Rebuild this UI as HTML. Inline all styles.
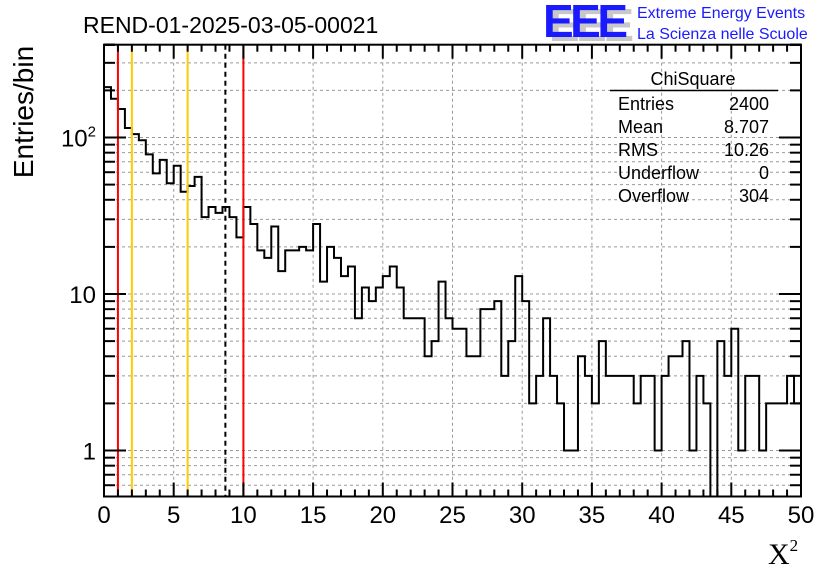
<!DOCTYPE html>
<html><head><meta charset="utf-8"><style>
body{margin:0;background:#fff;}
svg{display:block;font-family:"Liberation Sans",sans-serif;}
</style></head><body>
<svg id="chart" width="836" height="572" viewBox="0 0 836 572">
<rect width="836" height="572" fill="#fff"/>
<g id="grid"></g>
<g id="marks"></g>
<g id="axes"></g>
<text x="83" y="33" font-size="23">REND-01-2025-03-05-00021</text>
<g>
<text x="549" y="41" font-size="46" font-weight="bold" fill="#c8c8c8" letter-spacing="-1" textLength="84">EEE</text>
<text x="543" y="37" font-size="46" font-weight="bold" fill="#1a1aff" letter-spacing="-1" textLength="84">EEE</text>
<text x="637" y="18" font-size="16" fill="#1a1aff">Extreme Energy Events</text>
<text x="637" y="39" font-size="16" fill="#1a1aff">La Scienza nelle Scuole</text>
</g>
<g font-size="18">
<text x="693" y="85" text-anchor="middle">ChiSquare</text>
<line x1="610" y1="90.5" x2="778" y2="90.5" stroke="#000" stroke-width="1.5"/>
<text x="618" y="110">Entries</text><text x="769" y="110" text-anchor="end">2400</text>
<text x="618" y="133">Mean</text><text x="769" y="133" text-anchor="end">8.707</text>
<text x="618" y="156">RMS</text><text x="769" y="156" text-anchor="end">10.26</text>
<text x="618" y="179">Underflow</text><text x="769" y="179" text-anchor="end">0</text>
<text x="618" y="202">Overflow</text><text x="769" y="202" text-anchor="end">304</text>
</g>
<text transform="translate(33,112) rotate(-90)" text-anchor="middle" font-size="28">Entries/bin</text>
<text x="768" y="564" font-family="'Liberation Serif',serif" font-size="30">X<tspan font-size="17" dy="-13">2</tspan></text>
</svg>
<script>
const binValues = [210,177,152,115,105,96,78,59,72,51,66,45,49,56,31,36,33,36,31,23,36,28,19,17,27,14,19,19,20,19,28,12,20,17,13,15,7,11,9,11,13,15,11,7,7,7,4,5,12,7,6,6,4,4,8,8,9,3,5,13,9,2,3,7,3,2,1,1,4,3,2,5,3,3,3,3,2,3,3,1,3,4,4,5,1,3,2,0,5,3,6,1,3,3,1,2,2,2,3,2];
const xTickLabels = ["0","5","10","15","20","25","30","35","40","45","50"];
const yTickValues = [1,10,100];
const yTickLabels = ["1","10","10²"];
const redLines = [1,10];
const orangeLines = [2,6];
const meanLine = [8.707];

const NS="http://www.w3.org/2000/svg";
const L=104,R=801,T=44.7,B=496.5;
const xmin=0,xmax=50,decade=156.5;
const xs=v=>L+(v-xmin)/(xmax-xmin)*(R-L);
const ys=v=>v<=0?B:Math.max(T,Math.min(B,450.5-decade*Math.log10(v)));
function mk(tag,attrs,parent){const e=document.createElementNS(NS,tag);for(const k in attrs)e.setAttribute(k,attrs[k]);parent.appendChild(e);return e;}
const grid=document.getElementById('grid'),marks=document.getElementById('marks'),axes=document.getElementById('axes');
for(let i=0;i<xTickLabels.length;i++){const v=+xTickLabels[i];if(v<=xmin||v>=xmax)continue;const x=xs(v);
 const g=mk('line',{x1:x,x2:x,y1:T,y2:B,stroke:'#999','stroke-dasharray':'3,3','stroke-width':1},grid);
 
 }
for(let d=0.1;d<=100;d*=10){for(let m=1;m<10;m++){const v=Math.round(d*m*1000)/1000;const y=ys(v);if(y<=T+0.5||y>=B-0.5)continue;
 const g=mk('line',{x1:L,x2:R,y1:y,y2:y,stroke:'#999','stroke-dasharray':'3,3','stroke-width':1},grid);
 
 }}
const bw=(xmax-xmin)/binValues.length;
let d='M'+L+' '+B;
for(let i=0;i<binValues.length;i++){const x0=xs(xmin+i*bw),x1=xs(xmin+(i+1)*bw),y=ys(binValues[i]);d+=' L'+x0+' '+y+' L'+x1+' '+y;}
d+=' L'+R+' '+ys(binValues[binValues.length-1]);
const h=mk('path',{d:d,fill:'none',stroke:'#000','stroke-width':2},marks);


function vline(v,color,dash,name){const x=xs(v);const l=mk('line',{x1:x,x2:x,y1:T,y2:B,stroke:color,'stroke-width':2},marks);if(dash)l.setAttribute('stroke-dasharray',dash);
 
 }
redLines.forEach(v=>vline(v,'#f00',null,'red-cut-line'));
orangeLines.forEach(v=>vline(v,'#fc0',null,'orange-cut-line'));
meanLine.forEach(v=>vline(v,'#000','5,4','mean-line'));
const f=mk('rect',{x:L,y:T,width:R-L,height:B-T,fill:'none',stroke:'#000','stroke-width':2},axes);


for(let v=xmin;v<=xmax;v+=1){const x=xs(v);const len=(v%5===0)?14:7;
 mk('line',{x1:x,x2:x,y1:B,y2:B-len,stroke:'#000','stroke-width':2},axes);
 mk('line',{x1:x,x2:x,y1:T,y2:T+len,stroke:'#000','stroke-width':2},axes);}
xTickLabels.forEach(s=>{const t=mk('text',{x:xs(+s),y:523,'text-anchor':'middle','font-size':24},axes);t.textContent=s;
 
 });
for(let d2=0.1;d2<=100;d2*=10){for(let m=1;m<10;m++){const v=d2*m;const y=ys(v);if(y<T||y>B)continue;const len=(m===1)?22:11;
 mk('line',{x1:L,x2:L+len,y1:y,y2:y,stroke:'#000','stroke-width':2},axes);
 mk('line',{x1:R,x2:R-len,y1:y,y2:y,stroke:'#000','stroke-width':2},axes);}}
yTickValues.forEach((v,i)=>{const t=mk('text',{x:96,y:ys(v)+9,'text-anchor':'end','font-size':24},axes);
 if(yTickLabels[i]==='10²'){t.textContent='10';const s=mk('tspan',{'font-size':15,dy:-10},t);s.textContent='2';}else t.textContent=yTickLabels[i];
 
 });
</script>
</body></html>
